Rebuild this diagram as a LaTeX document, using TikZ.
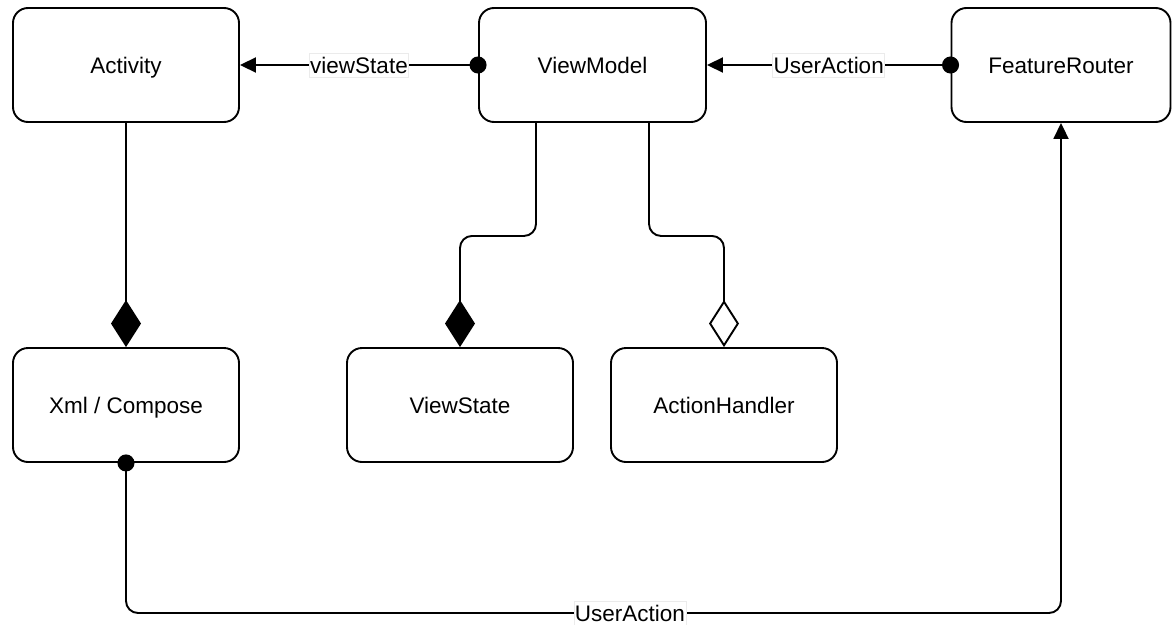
\documentclass[tikz,border=0pt]{standalone}
\usepackage{fontspec}
\setmainfont{Liberation Sans}
\usetikzlibrary{arrows.meta,calc}
\begin{document}
\begin{tikzpicture}[x=1pt,y=-1pt,
  box/.style={draw, line width=1.9pt, rounded corners=15pt, minimum width=226pt, minimum height=114pt, inner sep=0pt, text height=21pt, text depth=4.5pt, font=\fontsize{22.5}{26}\selectfont},
  conn/.style={line width=1.9pt, rounded corners=12pt},
  lbl/.style={fill=white, draw=black!8, sharp corners, line width=0.6pt, inner sep=1pt, text height=19pt, text depth=3pt, font=\fontsize{22.5}{26}\selectfont},
  dotarrow/.style={{Circle[length=17pt,width=17pt]}-{Triangle[length=16pt,width=15pt]}, shorten <=-8.5pt},
  filldia/.style={-{Diamond[length=47pt,width=30pt]}},
  opendia/.style={-{Diamond[open,length=47pt,width=30pt]}}
]
\useasboundingbox (0,0) rectangle (1172,624);

\node[box] (act) at (126,65) {Activity};
\node[box, minimum width=227pt] (vm) at (592.5,65) {ViewModel};
\node[box, minimum width=219pt] (fr) at (1061,65) {FeatureRouter};
\node[box] (xml) at (126,405) {Xml / Compose};
\node[box] (vs) at (460,405) {ViewState};
\node[box] (ah) at (724,405) {ActionHandler};

% top connectors
\draw[conn, dotarrow] (vm.west) -- node[lbl] {viewState} (act.east);
\draw[conn, dotarrow] (fr.west) -- node[lbl] {UserAction} (vm.east);

% Activity to Xml
\draw[conn, filldia] (act.south) -- (xml.north);

% ViewModel to ViewState / ActionHandler
\coordinate (vml) at ($(vm.south)+(-56.5,0)$);
\coordinate (vmr) at ($(vm.south)+(56.5,0)$);
\draw[conn, filldia] (vml) -- ($(vml)+(0,113)$) -| (vs.north);
\draw[conn, opendia] (vmr) -- ($(vmr)+(0,113)$) -| (ah.north);

% Xml to FeatureRouter
\coordinate (b1) at (126,613);
\coordinate (b2) at (1061,613);
\draw[conn, dotarrow] (xml.south) -- (b1) -- node[lbl, pos=0.539] {UserAction} (b2) -- (fr.south);
\end{tikzpicture}
\end{document}
